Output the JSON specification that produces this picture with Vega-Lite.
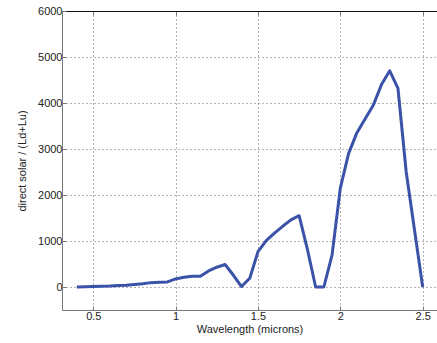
{
  "$schema": "https://vega.github.io/schema/vega-lite/v6.json",
  "width": 375,
  "height": 299,
  "autosize": "none",
  "padding": {"left": 62, "top": 11, "right": 0, "bottom": 33},
  "background": "white",
  "config": {
    "view": {"stroke": null},
    "axis": {
      "labelFont": "Liberation Sans",
      "titleFont": "Liberation Sans",
      "labelFontSize": 11,
      "titleFontSize": 11,
      "titleFontWeight": "normal",
      "labelColor": "#222",
      "titleColor": "#222",
      "domainColor": "#777",
      "tickColor": "#777",
      "tickSize": -4,
      "gridColor": "#555",
      "gridDash": [1, 3],
      "gridOpacity": 0.9
    }
  },
  "data": {
    "values": [
      {"w": 0.4, "v": 0}, {"w": 0.45, "v": 5}, {"w": 0.5, "v": 10}, {"w": 0.55, "v": 15},
      {"w": 0.6, "v": 20}, {"w": 0.65, "v": 30}, {"w": 0.7, "v": 40}, {"w": 0.75, "v": 55},
      {"w": 0.8, "v": 70}, {"w": 0.85, "v": 95}, {"w": 0.9, "v": 105}, {"w": 0.95, "v": 110},
      {"w": 1.0, "v": 175}, {"w": 1.05, "v": 210}, {"w": 1.1, "v": 235}, {"w": 1.15, "v": 235},
      {"w": 1.2, "v": 350}, {"w": 1.25, "v": 430}, {"w": 1.3, "v": 490}, {"w": 1.35, "v": 260},
      {"w": 1.4, "v": 10}, {"w": 1.45, "v": 190}, {"w": 1.5, "v": 770}, {"w": 1.55, "v": 1010},
      {"w": 1.6, "v": 1170}, {"w": 1.65, "v": 1320}, {"w": 1.7, "v": 1460}, {"w": 1.75, "v": 1550},
      {"w": 1.8, "v": 820}, {"w": 1.85, "v": 0}, {"w": 1.9, "v": 0}, {"w": 1.95, "v": 700},
      {"w": 2.0, "v": 2150}, {"w": 2.05, "v": 2900}, {"w": 2.1, "v": 3350}, {"w": 2.15, "v": 3650},
      {"w": 2.2, "v": 3950}, {"w": 2.25, "v": 4400}, {"w": 2.3, "v": 4700}, {"w": 2.35, "v": 4320},
      {"w": 2.4, "v": 2500}, {"w": 2.45, "v": 1250}, {"w": 2.5, "v": 0}
    ]
  },
  "resolve": {"axis": {"x": "independent", "y": "independent"}},
  "layer": [
    {
      "mark": {"type": "line", "opacity": 0},
      "encoding": {
        "x": {
          "field": "w", "type": "quantitative",
          "scale": {"domain": [0.31, 2.587], "nice": false, "zero": false},
          "axis": {
            "orient": "top", "values": [0.5, 1, 1.5, 2, 2.5], "labels": false,
            "title": null, "grid": false, "domainColor": "#111", "tickColor": "#777"
          }
        },
        "y": {
          "field": "v", "type": "quantitative",
          "scale": {"domain": [-500, 6000], "nice": false, "zero": false},
          "axis": null
        }
      }
    },
    {
      "mark": {"type": "line", "color": "#3a52a8", "strokeWidth": 3, "strokeJoin": "round"},
      "encoding": {
        "x": {
          "field": "w", "type": "quantitative",
          "scale": {"domain": [0.31, 2.587], "nice": false, "zero": false},
          "axis": {
            "orient": "bottom",
            "grid": true,
            "title": "Wavelength (microns)",
            "values": [0.5, 1, 1.5, 2, 2.5],
            "format": "~g",
            "labelPadding": 4,
            "titlePadding": 2
          }
        },
        "y": {
          "field": "v", "type": "quantitative",
          "scale": {"domain": [-500, 6000], "nice": false, "zero": false},
          "axis": {
            "grid": true,
            "title": "direct solar / (Ld+Lu)",
            "values": [0, 1000, 2000, 3000, 4000, 5000, 6000],
            "format": "d",
            "labelPadding": 4,
            "titlePadding": 10
          }
        }
      }
    }
  ]
}
